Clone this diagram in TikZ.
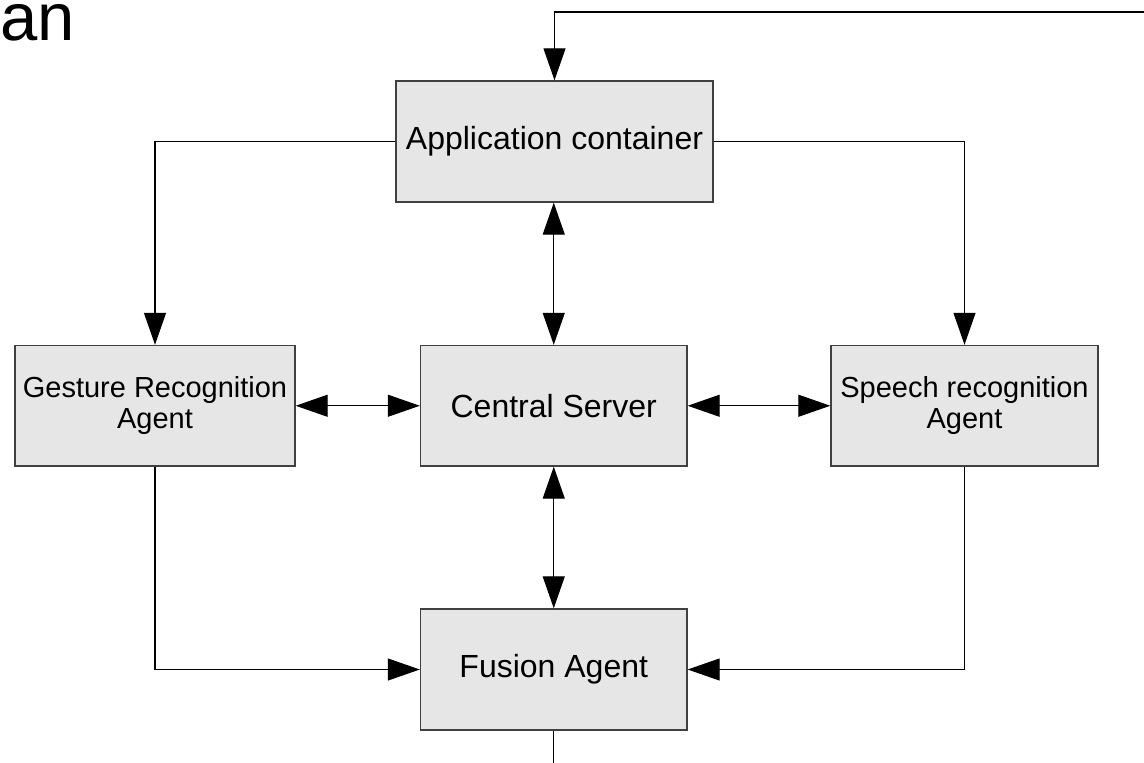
\documentclass[tikz,border=0pt]{standalone}
\usepackage{fontspec}
\setmainfont{Liberation Sans}
\usetikzlibrary{arrows.meta}
\definecolor{boxfill}{HTML}{E6E6E6}
\definecolor{boxline}{HTML}{404040}
\tikzset{
  block/.style={draw=boxline, fill=boxfill, line width=1.4pt, rectangle,
    inner sep=0pt, align=center, text=black,
    font=\fontsize{32}{37}\selectfont},
  agentblock/.style={block, font=\fontsize{29}{31}\selectfont},
  link/.style={draw=black, line width=1.2pt},
  tip/.style={-{Triangle[length=32pt,width=22pt]}},
  tips/.style={{Triangle[length=32pt,width=22pt]}-{Triangle[length=32pt,width=22pt]}}
}
\begin{document}
\begin{tikzpicture}[x=1pt,y=-1pt]
\useasboundingbox[fill=white] (0,0) rectangle (1144,763);

% partial heading at the top left
\node[anchor=base west, inner sep=0pt, font=\fontsize{67}{76}\selectfont] (heading) at (0.5,40) {an};

% boxes
\node[block, minimum width=317pt, minimum height=121pt] (app) at (554.5,141.5) {Application container};
\node[block, minimum width=266.5pt, minimum height=120.5pt] (central) at (553.75,405.75) {Central Server};
\node[agentblock, minimum width=280pt, minimum height=120.5pt] (gesture) at (155,405.75) {Gesture Recognition\\Agent};
\node[agentblock, minimum width=267pt, minimum height=120.5pt] (speech) at (964.5,405.75) {Speech recognition\\Agent};
\node[block, minimum width=266.5pt, minimum height=121pt] (fusion) at (553.75,669.5) {Fusion Agent};

% free ends of the open connectors
\coordinate (feedin) at (1144,12);
\coordinate (fusionout) at (553.75,763);

% connectors
\draw[link, tip] (feedin) -| (app.north);
\draw[link, tip] (app.west) -| (gesture.north);
\draw[link, tip] (app.east) -| (speech.north);
\draw[link, tips] (app.south -| central.north) -- (central.north);
\draw[link, tips] (gesture.east) -- (central.west);
\draw[link, tips] (central.east) -- (speech.west);
\draw[link, tips] (central.south) -- (fusion.north);
\draw[link, tip] (gesture.south) |- (fusion.west);
\draw[link, tip] (speech.south) |- (fusion.east);
\draw[link] (fusion.south) -- (fusionout);
\end{tikzpicture}
\end{document}
